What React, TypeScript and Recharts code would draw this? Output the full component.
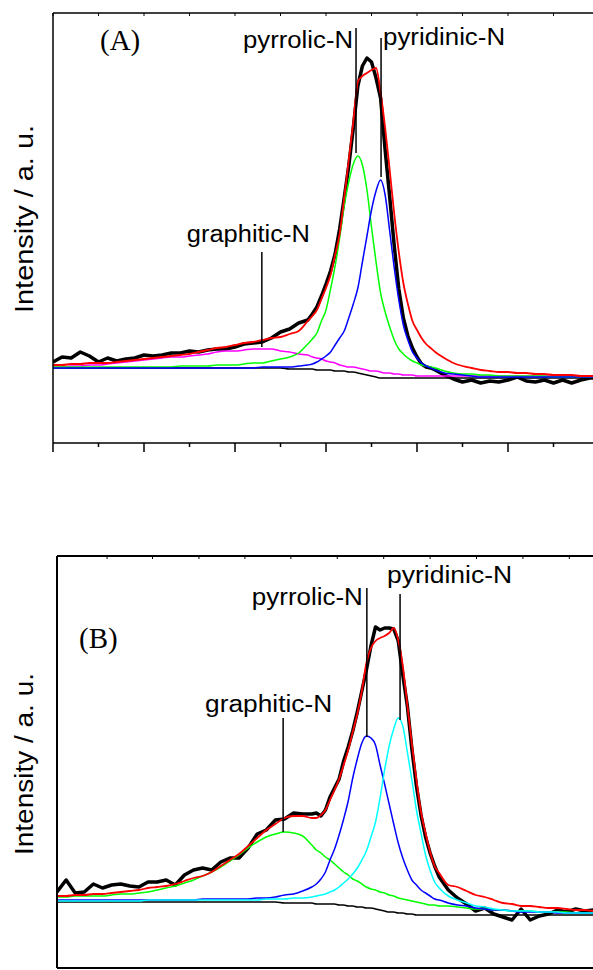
import { LineChart, Line, XAxis, YAxis, ReferenceLine } from "recharts"

// binding energy grid (eV), shared by both panels; finer around the peaks
const bindingEnergy = [
  410, 409.8, 409.6, 409.4, 409.2, 409, 408.8, 408.6, 408.4, 408.2, 408, 407.8, 407.6, 407.4, 407.2,
  407, 406.8, 406.6, 406.4, 406.2, 406, 405.8, 405.6, 405.4, 405.2, 405, 404.8, 404.6, 404.4,
  404.3, 404.2, 404.1, 404, 403.9, 403.8, 403.7, 403.6, 403.5, 403.4, 403.3, 403.2, 403.1, 403,
  402.9, 402.8, 402.7, 402.6, 402.5, 402.4, 402.3, 402.2, 402.1, 402, 401.9, 401.8, 401.7, 401.6,
  401.4, 401.2, 401, 400.8, 400.6, 400.4, 400.2, 400, 399.8, 399.6, 399.4, 399.2, 399, 398.8,
  398.6, 398.4, 398.2, 398,
]

const tickEnergy = [410, 409, 408, 407, 406, 405, 404, 403, 402, 401, 400, 399, 398]
const topTicksB = [408.9, 407.9, 406.88, 405.87, 404.86, 403.84, 402.82, 401.8, 400.78, 399.76, 398.74]

// ---- panel (A)
const measuredA = [
  81, 86, 85, 91, 87, 81, 85, 82, 84, 85, 88, 87, 88, 90, 90, 92, 91, 93, 94, 94, 96, 99, 100, 101, 105, 111, 114, 120, 123,
  129, 136, 147, 159, 172, 189, 214, 245, 277, 315, 357, 377, 385, 381, 365, 345, 293, 246, 197, 154, 125, 107, 95, 86, 79, 76, 75, 73,
  68, 64, 61, 63, 60, 62, 61, 63, 66, 62, 61, 63, 60, 63, 60, 63, 65, 65,
]
const envelopeA = [
  78, 78, 79, 79, 80, 80, 80, 81, 82, 83, 84, 85, 86, 87, 88, 89, 91, 93, 95, 96, 98, 100, 101, 103, 105, 106, 109, 112, 122,
  127, 133, 144, 155, 168, 188, 209, 245, 283, 321, 361, 367, 370, 373, 375, 350, 315, 273, 229, 191, 160, 139, 122, 113, 105, 99, 95, 91,
  85, 80, 77, 75, 73, 72, 71, 71, 70, 70, 69, 69, 68, 68, 68, 67, 67, 67,
]
const pyrrolicA = [
  76, 76, 76, 76, 76, 76, 76, 76, 76, 76, 76, 76, 76, 76, 77, 77, 77, 77, 78, 78, 78, 79, 80, 80, 82, 84, 86, 90, 99,
  104, 110, 122, 133, 154, 177, 205, 237, 261, 279, 287, 278, 253, 216, 181, 150, 131, 116, 103, 94, 89, 85, 82, 80, 78, 77, 76, 75,
  72, 70, 69, 69, 68, 68, 67, 67, 67, 67, 67, 67, 66, 66, 66, 66, 66, 66,
]
const pyridinicA = [
  75, 75, 75, 75, 75, 75, 75, 75, 75, 75, 75, 75, 75, 75, 75, 75, 75, 75, 75, 75, 75, 75, 75, 76, 76, 76, 76, 77, 78,
  79, 81, 84, 87, 91, 98, 105, 112, 125, 139, 155, 181, 207, 233, 252, 263, 248, 212, 175, 143, 118, 103, 91, 85, 80, 77, 75, 73,
  70, 69, 68, 67, 66, 66, 66, 66, 66, 66, 66, 66, 66, 66, 66, 66, 66, 66,
]
const graphiticA = [
  76, 76, 77, 77, 78, 78, 79, 80, 81, 82, 83, 84, 85, 86, 86, 87, 88, 89, 91, 92, 92, 93, 94, 94, 94, 92, 91, 89, 88,
  86, 85, 84, 82, 81, 80, 78, 77, 76, 76, 75, 74, 73, 72, 72, 71, 70, 70, 69, 69, 68, 68, 68, 67, 67, 67, 67, 67,
  67, 67, 67, 67, 67, 67, 67, 67, 67, 67, 67, 67, 67, 67, 67, 67, 67, 67,
]
const backgroundA = [
  75, 75, 75, 75, 75, 75, 75, 75, 75, 75, 75, 75, 75, 75, 75, 75, 75, 75, 75, 75, 75, 75, 75, 75, 75, 75, 74, 74, 74,
  74, 73, 73, 73, 73, 72, 72, 72, 71, 71, 70, 69, 68, 67, 66, 65, 65, 65, 65, 65, 65, 65, 65, 65, 65, 65, 65, 65,
  65, 65, 65, 65, 65, 65, 65, 65, 65, 65, 65, 65, 65, 65, 65, 65, 65, 65,
]

// ---- panel (B)
const measuredB = [
  76, 88, 75, 76, 84, 80, 83, 84, 82, 81, 86, 86, 88, 83, 93, 98, 100, 98, 106, 110, 110, 120, 134, 138, 148, 149, 155, 154, 154,
  155, 152, 158, 171, 180, 189, 207, 221, 237, 256, 277, 298, 322, 341, 338, 340, 340, 339, 327, 293, 262, 219, 182, 153, 131, 115, 102, 91,
  78, 70, 64, 57, 60, 54, 51, 48, 59, 48, 52, 54, 58, 56, 59, 57, 58, 58,
]
const envelopeB = [
  72, 72, 73, 73, 74, 74, 75, 76, 77, 78, 80, 81, 82, 84, 87, 90, 92, 96, 102, 108, 114, 122, 130, 138, 144, 150, 152, 152, 150,
  150, 153, 158, 168, 178, 189, 203, 218, 236, 254, 277, 305, 320, 327, 330, 332, 335, 340, 328, 302, 263, 224, 188, 156, 135, 116, 102, 95,
  83, 81, 77, 73, 71, 68, 65, 64, 62, 62, 61, 60, 60, 59, 58, 58, 57, 57,
]
const graphiticB = [
  71, 71, 72, 72, 72, 72, 73, 74, 74, 75, 76, 78, 80, 82, 85, 88, 92, 96, 101, 107, 113, 120, 126, 131, 134, 136, 135, 132, 123,
  118, 115, 111, 108, 104, 100, 96, 93, 89, 87, 84, 81, 79, 78, 76, 75, 73, 72, 70, 69, 68, 67, 66, 65, 64, 63, 63, 62,
  62, 61, 60, 59, 59, 58, 58, 57, 57, 57, 56, 56, 56, 56, 55, 55, 55, 55,
]
const pyrrolicB = [
  68, 68, 68, 68, 68, 68, 68, 68, 68, 68, 68, 68, 68, 68, 68, 68, 69, 69, 69, 69, 69, 69, 70, 70, 71, 73, 74, 77, 81,
  84, 89, 96, 108, 119, 133, 149, 167, 190, 209, 225, 232, 230, 223, 203, 184, 164, 144, 125, 110, 98, 88, 83, 78, 75, 72, 69, 68,
  65, 63, 62, 60, 59, 58, 58, 57, 56, 56, 56, 56, 55, 55, 55, 55, 55, 55,
]
const pyridinicB = [
  67, 67, 67, 67, 67, 67, 67, 67, 67, 67, 68, 68, 68, 68, 68, 68, 68, 68, 68, 68, 68, 68, 68, 69, 69, 69, 70, 70, 71,
  72, 73, 74, 76, 78, 81, 85, 89, 94, 100, 108, 117, 131, 146, 170, 198, 222, 239, 250, 242, 216, 188, 158, 135, 113, 98, 86, 80,
  72, 68, 65, 62, 61, 59, 58, 57, 57, 57, 56, 56, 56, 55, 55, 55, 55, 55,
]
const backgroundB = [
  66, 66, 66, 66, 66, 66, 66, 66, 66, 66, 66, 66, 66, 66, 66, 66, 66, 66, 66, 66, 66, 66, 66, 66, 66, 65, 65, 65, 65,
  64, 64, 64, 64, 64, 63, 63, 62, 62, 61, 61, 60, 60, 59, 58, 57, 56, 56, 55, 55, 54, 54, 53, 53, 53, 53, 53, 53,
  53, 53, 53, 53, 53, 53, 53, 53, 53, 53, 53, 53, 53, 53, 53, 53, 53, 53,
]

// peak labels: x = energy of the leader line, top/bottom = its ends in intensity units
const notesA = [
  { text: "pyrrolic-N", x: 403.34, top: 415, bottom: 290 },
  { text: "pyridinic-N", x: 402.79, top: 405, bottom: 266 },
  { text: "graphitic-N", x: 405.41, top: 191, bottom: 96 },
]
const notesB = [
  { text: "pyrrolic-N", x: 403.19, top: 380, bottom: 231 },
  { text: "pyridinic-N", x: 402.46, top: 374, bottom: 248 },
  { text: "graphitic-N", x: 405.03, top: 250, bottom: 136 },
]

const SANS = '"Liberation Sans", Arial, sans-serif'
const SERIF = '"Liberation Serif", "Times New Roman", serif'

// where each label text sits relative to the top of its leader line
const noteStyleA = [
  { dx: -3, dy: 20, anchor: "end", len: 110 },
  { dx: 2, dy: 7, anchor: "start", len: 122 },
  { dx: -75, dy: -10, anchor: "start", len: 123 },
]
const noteStyleB = [
  { dx: -4, dy: 17, anchor: "end", len: 111 },
  { dx: -13, dy: -11, anchor: "start", len: 125 },
  { dx: -78, dy: -6, anchor: "start", len: 127 },
]

function makeRows(cols: Record<string, number[]>) {
  return bindingEnergy.map((be, i) => {
    const row: Record<string, number> = { be }
    for (const k in cols) row[k] = cols[k][i]
    return row
  })
}

const rowsA = makeRows({
  measured: measuredA,
  envelope: envelopeA,
  pyrrolic: pyrrolicA,
  pyridinic: pyridinicA,
  graphitic: graphiticA,
  background: backgroundA,
})
const rowsB = makeRows({
  measured: measuredB,
  envelope: envelopeB,
  pyrrolic: pyrrolicB,
  pyridinic: pyridinicB,
  graphitic: graphiticB,
  background: backgroundB,
})

const BottomTick = (props: any) => {
  const { x, y, payload } = props
  const major = Math.round(payload.value) % 2 === 0
  return <line x1={x} x2={x} y1={y} y2={y + (major ? 9 : 4)} stroke="#000" strokeWidth={1.5} />
}

const TopTick = (props: any) => (
  <line x1={props.x} x2={props.x} y1={props.y} y2={props.y + 3} stroke="#000" strokeWidth={1} />
)

const yLabel = (len: number, shift: number) => (props: any) => {
  const vb = props.viewBox
  const x = vb.x + 33
  const y = vb.y + vb.height / 2 + shift
  return (
    <text
      x={x}
      y={y}
      transform={`rotate(-90, ${x}, ${y})`}
      textAnchor="middle"
      fontFamily={SANS}
      fontSize={25}
      fill="#000"
      textLength={len}
      lengthAdjust="spacingAndGlyphs"
    >
      Intensity / a. u.
    </text>
  )
}

const panelLabel = (text: string, dx: number, dy: number) => (props: any) => {
  const vb = props.viewBox
  return (
    <text x={vb.x + dx} y={vb.y + vb.height + dy} fontFamily={SERIF} fontSize={29} fill="#000">
      {text}
    </text>
  )
}

const noteLabel = (text: string, s: { dx: number; dy: number; anchor: string; len: number }) => (props: any) => {
  const vb = props.viewBox
  return (
    <text
      x={vb.x + s.dx}
      y={vb.y + s.dy}
      textAnchor={s.anchor as any}
      fontFamily={SANS}
      fontSize={23}
      fill="#000"
      textLength={s.len}
      lengthAdjust="spacingAndGlyphs"
    >
      {text}
    </text>
  )
}

export default function App() {
  return (
    <div
      style={{
        position: "absolute",
        left: 0,
        top: 0,
        width: 593,
        height: 970,
        overflow: "hidden",
        background: "#fff",
      }}
    >
      {/* (A) */}
      <div style={{ position: "absolute", left: 0, top: 0 }}>
        <LineChart width={640} height={470} data={rowsA} margin={{ top: 0, right: 41, left: 0, bottom: 7 }}>
          <XAxis
            dataKey="be"
            type="number"
            domain={[398, 410]}
            reversed
            allowDataOverflow
            ticks={tickEnergy}
            interval={0}
            tick={BottomTick}
            tickLine={false}
            tickSize={0}
            tickMargin={0}
            height={20}
            axisLine={{ stroke: "#000", strokeWidth: 1.5 }}
          />
          <XAxis
            xAxisId="top"
            orientation="top"
            dataKey="be"
            type="number"
            domain={[398, 410]}
            reversed
            allowDataOverflow
            ticks={tickEnergy}
            interval={0}
            tick={TopTick}
            tickLine={false}
            tickSize={0}
            tickMargin={0}
            height={13}
            axisLine={{ stroke: "#000", strokeWidth: 1.5 }}
            label={panelLabel("(A)", 47, 37)}
          />
          <YAxis
            type="number"
            domain={[0, 430]}
            allowDataOverflow
            tick={false}
            tickLine={false}
            width={53}
            axisLine={{ stroke: "#000", strokeWidth: 1.5 }}
            label={yLabel(188, -9)}
          />
          <Line dataKey="measured" type="linear" stroke="#000" strokeWidth={3.5} strokeLinejoin="round" dot={false} isAnimationActive={false} />
          <Line dataKey="background" type="monotone" stroke="#000" strokeWidth={1.5} dot={false} isAnimationActive={false} />
          <Line dataKey="graphitic" type="monotone" stroke="#ff00ff" strokeWidth={1.5} dot={false} isAnimationActive={false} />
          <Line dataKey="pyrrolic" type="monotone" stroke="#00ff00" strokeWidth={1.5} dot={false} isAnimationActive={false} />
          <Line dataKey="pyridinic" type="monotone" stroke="#0000ff" strokeWidth={1.5} dot={false} isAnimationActive={false} />
          <Line dataKey="envelope" type="monotone" stroke="#ff0000" strokeWidth={1.8} dot={false} isAnimationActive={false} />
          {notesA.map((n, i) => (
            <ReferenceLine
              key={n.text}
              segment={[
                { x: n.x, y: n.bottom },
                { x: n.x, y: n.top },
              ]}
              stroke="#000"
              strokeWidth={1.5}
              label={noteLabel(n.text, noteStyleA[i])}
            />
          ))}
        </LineChart>
      </div>

      {/* (B) */}
      <div style={{ position: "absolute", left: 0, top: 520 }}>
        <LineChart width={640} height={470} data={rowsB} margin={{ top: 0, right: 37, left: 0, bottom: 2 }}>
          <XAxis
            dataKey="be"
            type="number"
            domain={[398, 410]}
            reversed
            allowDataOverflow
            ticks={tickEnergy}
            interval={0}
            tick={false}
            tickLine={false}
            height={20}
            axisLine={{ stroke: "#000", strokeWidth: 2 }}
          />
          <XAxis
            xAxisId="top"
            orientation="top"
            dataKey="be"
            type="number"
            domain={[398, 410]}
            reversed
            allowDataOverflow
            ticks={topTicksB}
            interval={0}
            tick={TopTick}
            tickLine={false}
            tickSize={0}
            tickMargin={0}
            height={36}
            axisLine={{ stroke: "#000", strokeWidth: 2 }}
            label={panelLabel("(B)", 22, 92)}
          />
          <YAxis
            type="number"
            domain={[0, 412]}
            allowDataOverflow
            tick={false}
            tickLine={false}
            width={57}
            axisLine={{ stroke: "#000", strokeWidth: 2 }}
            label={yLabel(182, 2)}
          />
          <Line dataKey="measured" type="linear" stroke="#000" strokeWidth={3.5} strokeLinejoin="round" dot={false} isAnimationActive={false} />
          <Line dataKey="background" type="monotone" stroke="#000" strokeWidth={1.5} dot={false} isAnimationActive={false} />
          <Line dataKey="graphitic" type="monotone" stroke="#00ff00" strokeWidth={1.5} dot={false} isAnimationActive={false} />
          <Line dataKey="pyrrolic" type="monotone" stroke="#0000ff" strokeWidth={1.5} dot={false} isAnimationActive={false} />
          <Line dataKey="pyridinic" type="monotone" stroke="#00ffff" strokeWidth={1.5} dot={false} isAnimationActive={false} />
          <Line dataKey="envelope" type="monotone" stroke="#ff0000" strokeWidth={1.8} dot={false} isAnimationActive={false} />
          {notesB.map((n, i) => (
            <ReferenceLine
              key={n.text}
              segment={[
                { x: n.x, y: n.bottom },
                { x: n.x, y: n.top },
              ]}
              stroke="#000"
              strokeWidth={1.5}
              label={noteLabel(n.text, noteStyleB[i])}
            />
          ))}
        </LineChart>
      </div>
    </div>
  )
}
